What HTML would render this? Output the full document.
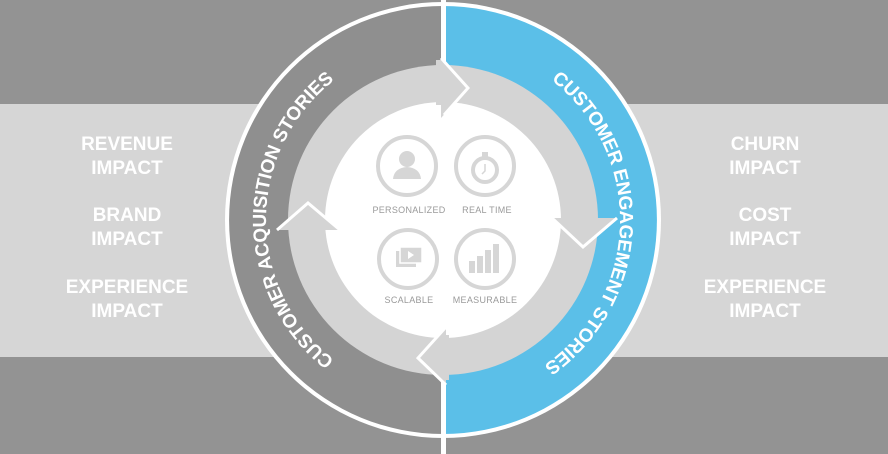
<!DOCTYPE html>
<html><head><meta charset="utf-8"><style>
html,body{margin:0;padding:0;background:#939393;}
svg{display:block;font-family:"Liberation Sans",sans-serif;}
</style></head><body>
<svg width="888" height="454" viewBox="0 0 888 454" xmlns="http://www.w3.org/2000/svg">
<rect x="0" y="0" width="888" height="454" fill="#939393"/>
<rect x="0" y="104" width="888" height="253" fill="#d6d6d6"/>
<g fill="#fff" font-weight="bold" font-size="19" text-anchor="middle">
<text x="127" y="150">REVENUE</text><text x="127" y="174">IMPACT</text>
<text x="127" y="221">BRAND</text><text x="127" y="245">IMPACT</text>
<text x="127" y="293">EXPERIENCE</text><text x="127" y="317">IMPACT</text>
<text x="765" y="150">CHURN</text><text x="765" y="174">IMPACT</text>
<text x="765" y="221">COST</text><text x="765" y="245">IMPACT</text>
<text x="765" y="293">EXPERIENCE</text><text x="765" y="317">IMPACT</text>
</g>
<circle cx="443" cy="220" r="218" fill="#fff"/>
<path d="M443 6 A214 214 0 0 0 443 434 Z" fill="#8f8f8f"/>
<path d="M443 6 A214 214 0 0 1 443 434 Z" fill="#5bbfe8"/>
<circle cx="443" cy="220" r="155" fill="#d4d4d4"/>
<circle cx="443" cy="220" r="118" fill="#fff"/>
<rect x="441" y="0" width="5" height="454" fill="#fff"/>
<g fill="#d4d4d4">
<polygon points="441,58 468,88 441,118"/>
<polygon points="552,218 583,247 617,218"/>
<polygon points="446,327 418,358 446,385"/>
<polygon points="277,230 308,203 340,230"/>
<rect x="436" y="60" width="8" height="45"/>
<rect x="441" y="335" width="8" height="45"/>
</g>
<g fill="none" stroke="#fff" stroke-width="3" stroke-linejoin="miter">
<polyline points="441,58 468,88 444,115"/>
<polyline points="552,218 583,247 617,218"/>
<polyline points="446,327 418,358 446,385"/>
<polyline points="277,230 308,203 340,230"/>
</g>
<defs>
<path id="lp" d="M339 363.2 A177 177 0 0 1 339 76.8"/>
<path id="rp" d="M547 76.8 A177 177 0 0 1 539.4 368.4"/>
</defs>
<g fill="#fff" font-weight="bold" font-size="19">
<text><textPath href="#lp" startOffset="50%" text-anchor="middle" textLength="322" lengthAdjust="spacing">CUSTOMER ACQUISITION STORIES</textPath></text>
<text><textPath href="#rp" startOffset="50%" text-anchor="middle" textLength="332" lengthAdjust="spacing">CUSTOMER ENGAGEMENT STORIES</textPath></text>
</g>
<g fill="none" stroke="#d6d6d6" stroke-width="4">
<circle cx="407" cy="166" r="29"/>
<circle cx="485" cy="166" r="29"/>
<circle cx="408" cy="259" r="29"/>
<circle cx="485" cy="259" r="29"/>
</g>
<g fill="#d6d6d6">
<circle cx="407" cy="159" r="8"/>
<path d="M393 179 Q394 168 407 167 Q420 168 421 179 Z"/>
<circle cx="485" cy="170" r="12" fill="none" stroke="#d6d6d6" stroke-width="4"/>
<rect x="482" y="152" width="6" height="5"/>
<rect x="396" y="251" width="20" height="16"/>
<rect x="400" y="247" width="22" height="16" stroke="#fff" stroke-width="1.5"/>
<polygon points="408,251 408,259 414,255" fill="#fff"/>
<rect x="469" y="261" width="6" height="12"/>
<rect x="477" y="256" width="6" height="17"/>
<rect x="485" y="250" width="6" height="23"/>
<rect x="493" y="244" width="6" height="29"/>
</g>
<path d="M485 164 L485 171 L482 174" stroke="#d6d6d6" stroke-width="1.5" fill="none"/>
<g fill="#9a9a9a" font-size="9" text-anchor="middle" letter-spacing="0.3">
<text x="409" y="213">PERSONALIZED</text>
<text x="487" y="213">REAL TIME</text>
<text x="409" y="303">SCALABLE</text>
<text x="485" y="303">MEASURABLE</text>
</g>
</svg>
</body></html>
